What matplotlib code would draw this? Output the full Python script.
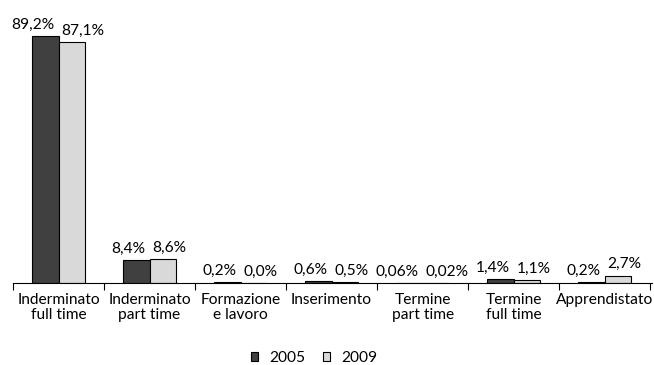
import numpy as np
import matplotlib
matplotlib.use("Agg")
import matplotlib.pyplot as plt
from matplotlib.ticker import FixedLocator

plt.rcParams['font.family'] = ['Lato', 'DejaVu Sans']

categories = ["Inderminato\nfull time", "Inderminato\npart time", "Formazione\ne lavoro",
              "Inserimento", "Termine\npart time", "Termine\nfull time", "Apprendistato"]
v2005 = [89.2, 8.4, 0.2, 0.6, 0.06, 1.4, 0.2]
v2009 = [87.1, 8.6, 0.0, 0.5, 0.02, 1.1, 2.7]
lab2005 = ["89,2%", "8,4%", "0,2%", "0,6%", "0,06%", "1,4%", "0,2%"]
lab2009 = ["87,1%", "8,6%", "0,0%", "0,5%", "0,02%", "1,1%", "2,7%"]

fs = 11.2

fig = plt.figure(figsize=(6.54, 3.65), dpi=100)
ax = fig.add_axes([13/654, (365-283)/365, 639/654, 277/365])

x = np.arange(len(categories))
w = 0.29
b1 = ax.bar(x - w/2, v2005, w, color='#404040', edgecolor='black', linewidth=0.8, label='2005')
b2 = ax.bar(x + w/2, v2009, w, color='#d9d9d9', edgecolor='black', linewidth=0.8, label='2009')

# labels sit either side of the group centre so they don't run into each other
for rect, t in zip(b1, lab2005):
    ax.annotate(t, (rect.get_x() + rect.get_width(), rect.get_height()),
                xytext=(-3, 3), textcoords='offset points', ha='right', va='bottom', fontsize=fs)
for rect, t in zip(b2, lab2009):
    ax.annotate(t, (rect.get_x(), rect.get_height()),
                xytext=(2, 3), textcoords='offset points', ha='left', va='bottom', fontsize=fs)

ax.set_xlim(-0.5, len(categories) - 0.5 + 0.02)
ax.set_ylim(0, 100)
ax.set_xticks(x)
ax.set_xticklabels(categories, fontsize=fs, linespacing=1.1)
ax.xaxis.set_minor_locator(FixedLocator(np.arange(len(categories) + 1) - 0.5))
ax.tick_params(axis='x', which='major', length=0, pad=7)
ax.tick_params(axis='x', which='minor', length=5, width=0.8, direction='out')
ax.set_yticks([])
for s in ['top', 'right', 'left']:
    ax.spines[s].set_visible(False)
ax.spines['bottom'].set_linewidth(0.8)

fig.legend(handles=[b1, b2], labels=['2005', '2009'], loc='center', bbox_to_anchor=(314/654, 1 - 358/365),
           ncol=2, frameon=False, fontsize=fs, handlelength=0.5, handleheight=0.5,
           columnspacing=1.1, handletextpad=0.7)

fig.savefig("out.png", dpi=100)
